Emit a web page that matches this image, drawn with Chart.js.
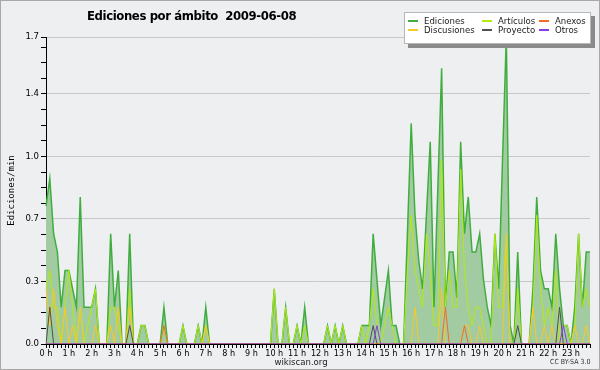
<!DOCTYPE html>
<html><head><meta charset="utf-8">
<script src="https://cdn.jsdelivr.net/npm/chart.js@4/dist/chart.umd.min.js"></script>
<style>
html,body{margin:0;padding:0;background:#eeeff1;}
#wrap{position:relative;width:600px;height:370px;overflow:hidden;background:#eeeff1;}
#c{position:absolute;left:0;top:0;}
#frame{position:absolute;left:0;top:0;width:600px;height:370px;box-sizing:border-box;border:1px solid #a8a8a8;pointer-events:none;}
.t{position:absolute;white-space:nowrap;font-family:"Liberation Sans Narrow","DejaVu Sans Condensed",sans-serif;color:#000;line-height:1;}
#title{left:87px;top:9px;font-size:13px;font-weight:bold;letter-spacing:-0.4px;}
#site{left:0;width:602px;text-align:center;top:357px;font-size:9.5px;color:#222;}
#lic{left:550px;top:359px;font-size:7px;color:#333;}
#legbox{position:absolute;left:404px;top:12px;width:187px;height:32px;background:#fff;border:1px solid #b8b8b8;box-sizing:border-box;box-shadow:4px 4px 0 #8a8a8a;}
.sw{position:absolute;width:10px;height:2px;}
.lt{position:absolute;font-size:9.5px;line-height:10px;white-space:nowrap;font-family:"Liberation Sans Narrow","DejaVu Sans Condensed",sans-serif;color:#222;}
</style></head>
<body>
<div id="wrap">
<canvas id="c" width="600" height="370"></canvas>
<div class="t" id="title">Ediciones por ámbito&nbsp;&nbsp;2009-06-08</div>
<div id="legbox"></div>
<div id="legend"></div>
<div class="t" id="site">wikiscan.org</div>
<div class="t" id="lic">CC BY-SA 3.0</div>
<div id="frame"></div>
</div>
<script>
const hourLabels = ['0 h','1 h','2 h','3 h','4 h','5 h','6 h','7 h','8 h','9 h','10 h','11 h',
  '12 h','13 h','14 h','15 h','16 h','17 h','18 h','19 h','20 h','21 h','22 h','23 h'];
const minutes = ['00','10','20','30','40','50'];

const ediciones = [
  0.75,0.9,0.6,0.5,0.2,0.4,0.4,0.3,0.2,0.8,0.2,0.2,
  0.2,0.3,0,0,0,0.6,0.2,0.4,0,0,0.6,0,
  0,0.1,0.1,0,0,0,0,0.2,0,0,0,0,
  0.1,0,0,0,0.1,0,0.2,0,0,0,0,0,
  0,0,0,0,0,0,0,0,0,0,0,0,
  0.3,0,0,0.2,0,0,0.1,0,0.2,0,0,0,
  0,0,0.1,0,0.1,0,0.1,0,0,0,0,0.1,
  0.1,0.1,0.6,0.35,0.1,0.25,0.4,0.1,0.1,0,0,0.6,
  1.2,0.7,0.45,0.3,0.7,1.1,0.2,0.85,1.5,0.2,0.5,0.5,
  0.25,1.1,0.6,0.8,0.5,0.5,0.6,0.35,0.2,0.1,0.6,0.3,
  1.0,1.67,0.1,0,0.5,0,0,0,0.3,0.8,0.4,0.3,
  0.3,0.2,0.6,0.3,0.1,0.1,0,0.2,0.6,0.2,0.5,0.5];
const articulos = [
  0.3,0.4,0.2,0.2,0,0.2,0.4,0.2,0,0.2,0,0.1,
  0.2,0.3,0,0,0,0.2,0.2,0.1,0,0,0.3,0,
  0,0.1,0.1,0,0,0,0,0.1,0,0,0,0,
  0.1,0,0,0,0.1,0,0.1,0,0,0,0,0,
  0,0,0,0,0,0,0,0,0,0,0,0,
  0.3,0,0,0.2,0,0,0.1,0,0.1,0,0,0,
  0,0,0.1,0,0.1,0,0.1,0,0,0,0,0.1,
  0,0.1,0.3,0.1,0,0.1,0.2,0.1,0,0,0,0.4,
  0.7,0.4,0.3,0.2,0.6,0.4,0.1,0.1,1.0,0.2,0.4,0.2,
  0.2,0.95,0.4,0.2,0.1,0.2,0.2,0.1,0,0,0.6,0.2,
  0.2,0.6,0,0,0.3,0,0,0,0.2,0.7,0.3,0.1,
  0.2,0.1,0.4,0,0.1,0.1,0,0.1,0.6,0.2,0.3,0.2];
const anexos = [
  0,0,0,0,0,0,0,0,0,0,0,0,
  0,0,0,0,0,0,0,0,0,0,0,0,
  0,0,0,0,0,0,0,0.1,0,0,0,0,
  0,0,0,0,0,0,0,0,0,0,0,0,
  0,0,0,0,0,0,0,0,0,0,0,0,
  0,0,0,0,0,0,0,0,0,0,0,0,
  0,0,0,0,0,0,0,0,0,0,0,0,
  0,0,0,0,0,0,0,0,0,0,0,0,
  0,0,0,0,0,0,0,0,0,0.2,0,0,
  0,0,0.1,0,0,0,0,0,0,0,0,0,
  0,0,0,0,0,0,0,0,0,0,0,0,
  0,0,0,0,0,0,0,0,0,0,0,0];
const discusiones = [
  0.3,0.1,0.3,0.1,0,0.2,0,0.1,0,0.2,0,0,
  0,0.1,0,0,0,0.1,0,0.2,0,0,0.2,0,
  0,0,0,0,0,0,0,0,0,0,0,0,
  0,0,0,0,0,0,0.1,0,0,0,0,0,
  0,0,0,0,0,0,0,0,0,0,0,0,
  0,0,0,0,0,0,0,0,0,0,0,0,
  0,0,0,0,0,0,0,0,0,0,0,0,
  0,0,0,0,0,0,0,0,0,0,0,0,
  0,0.2,0,0,0,0,0,0,0.3,0,0,0,
  0,0,0.1,0.1,0,0,0.1,0,0,0,0,0,
  0,0.6,0,0,0,0,0,0,0.2,0,0,0.1,
  0,0.1,0,0,0,0,0,0.1,0,0,0.1,0];
const proyecto = [
  0,0.2,0,0,0,0,0,0,0,0,0,0,
  0,0,0,0,0,0,0,0,0,0,0.1,0,
  0,0,0,0,0,0,0,0,0,0,0,0,
  0,0,0,0,0,0,0,0,0,0,0,0,
  0,0,0,0,0,0,0,0,0,0,0,0,
  0,0,0,0,0,0,0,0,0,0,0,0,
  0,0,0,0,0,0,0,0,0,0,0,0,
  0,0,0.1,0,0,0,0,0,0,0,0,0,
  0,0,0,0,0,0,0,0,0,0,0,0,
  0,0,0,0,0,0,0,0,0,0,0,0,
  0,0,0,0,0.1,0,0,0,0,0,0,0,
  0,0,0,0.2,0,0,0,0,0,0,0,0];
const otros = [
  0,0,0,0,0,0,0,0,0,0,0,0,
  0,0,0,0,0,0,0,0,0,0,0,0,
  0,0,0,0,0,0,0,0,0,0,0,0,
  0,0,0,0,0,0,0,0,0,0,0,0,
  0,0,0,0,0,0,0,0,0,0,0,0,
  0,0,0,0,0,0,0,0,0,0,0,0,
  0,0,0,0,0,0,0,0,0,0,0,0,
  0,0,0,0.1,0,0,0,0,0,0,0,0,
  0,0,0,0,0,0,0,0,0,0,0,0,
  0,0,0,0,0,0,0,0,0,0,0,0,
  0,0,0,0,0,0,0,0,0,0,0,0,
  0,0,0,0,0.1,0,0,0,0,0,0,0];

const yMax = 1.67;
const yMajor = 0.34;
const yMinor = 0.085;

const categories = [];
hourLabels.forEach(h => minutes.forEach(m => categories.push(h.replace(' h','') + ':' + m)));

const font = '"Liberation Sans Narrow","DejaVu Sans Condensed",sans-serif';
const isMajor = v => v === yMax || Math.abs(v / yMajor - Math.round(v / yMajor)) < 0.01;

function ds(label, data, color, order, extra) {
  return Object.assign({label, data, borderColor: color, backgroundColor: color,
    borderWidth: 1, pointRadius: 0, tension: 0, fill: false, order}, extra || {});
}

const chart = new Chart(document.getElementById('c'), {
  type: 'line',
  data: {
    labels: categories,
    datasets: [
      ds('Ediciones', ediciones, '#3fae3f', 10, {fill: 'origin', backgroundColor: '#a2cba2', borderWidth: 1.5}),
      ds('Artículos', articulos, '#b4ea10', 5),
      ds('Anexos', anexos, '#f06a28', 2),
      ds('Discusiones', discusiones, '#f8c828', 4),
      ds('Proyecto', proyecto, '#505050', 3),
      ds('Otros', otros, '#8a3ce8', 1)
    ]
  },
  options: {
    responsive: false, animation: false, devicePixelRatio: 1,
    layout: {padding: {top: 37, right: 10, left: 0, bottom: 0}},
    plugins: {legend: {display: false}, title: {display: false}, tooltip: {enabled: false}},
    scales: {
      x: {
        type: 'category', offset: false,
        afterFit: s => { s.height = 26; },
        grid: {drawOnChartArea: false, drawTicks: true, tickLength: 4, tickColor: '#000', tickWidth: 1},
        border: {display: true, color: '#000', width: 1},
        ticks: {autoSkip: false, maxRotation: 0, minRotation: 0, padding: 0, color: '#000',
          font: {family: font, size: 9},
          callback: (v, i) => (i % 6 === 0 ? hourLabels[i / 6] : '')}
      },
      y: {
        min: 0, max: yMax,
        afterFit: s => { s.width = 46; },
        afterBuildTicks: s => {
          const t = [];
          for (let k = 0; k * yMinor <= yMax - 0.03; k++) t.push({value: +(k * yMinor).toFixed(3)});
          t.push({value: yMax});
          s.ticks = t;
        },
        title: {display: true, text: 'Ediciones/min', color: '#000',
          font: {family: '"DejaVu Sans Mono",monospace', size: 9}, padding: {top: 6, bottom: 0}},
        grid: {drawOnChartArea: true, tickLength: 5, tickColor: '#000',
          color: c => (c.tick && c.tick.value > 0 && isMajor(c.tick.value)) ? '#c8c8c8' : 'rgba(0,0,0,0)'},
        border: {display: true, color: '#000', width: 1},
        ticks: {padding: 2, color: '#000', font: {family: font, size: 9.5},
          callback: v => (isMajor(v) ? v.toFixed(1) : '')}
      }
    }
  }
});

// HTML legend built from the chart's datasets
const legendCols = [408, 482, 539];
const legendRows = [15.5, 25];
const leg = document.getElementById('legend');
chart.data.datasets.forEach((d, i) => {
  const col = i % 3, row = Math.floor(i / 3);
  const sw = document.createElement('div');
  sw.className = 'sw';
  sw.style.left = legendCols[col] + 'px';
  sw.style.top = (legendRows[row] + 4) + 'px';
  sw.style.background = d.borderColor;
  const tx = document.createElement('div');
  tx.className = 'lt';
  tx.style.left = (legendCols[col] + 16) + 'px';
  tx.style.top = legendRows[row] + 'px';
  tx.textContent = d.label;
  leg.appendChild(sw); leg.appendChild(tx);
});
</script>
</body></html>
